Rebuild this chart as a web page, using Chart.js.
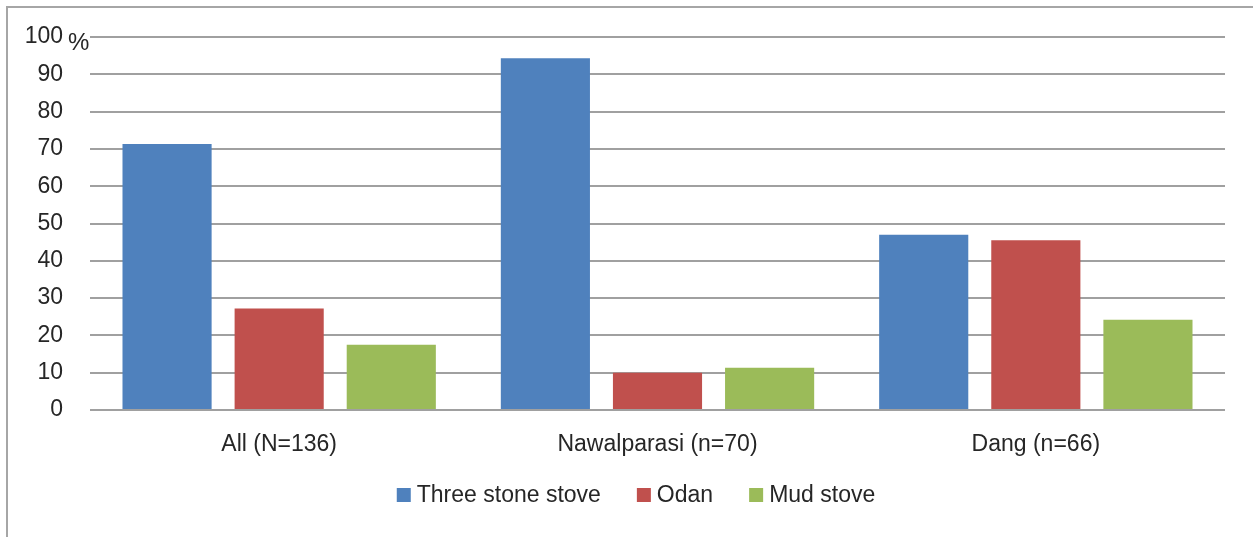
<!DOCTYPE html>
<html>
<head>
<meta charset="utf-8">
<script src="https://cdn.jsdelivr.net/npm/chart.js@4.4.1/dist/chart.umd.min.js"></script>
<style>
html,body{margin:0;padding:0;background:#fff;}
#wrap{position:relative;width:1253px;height:537px;}
</style>
</head>
<body>
<div id="wrap"><canvas id="c"></canvas></div>
<script>
const categories = ["All (N=136)", "Nawalparasi (n=70)", "Dang (n=66)"];
const seriesNames = ["Three stone stove", "Odan", "Mud stove"];
const threeStone = [71.3, 94.3, 47.0];
const odan = [27.2, 10.0, 45.5];
const mudStove = [17.5, 11.3, 24.2];
const yTicks = [0, 10, 20, 30, 40, 50, 60, 70, 80, 90, 100];
const colors = ["#4F81BD", "#C0504D", "#9BBB59"];

const FONT = "Liberation Sans, Arial, sans-serif";
const TXT = "#262626";

const framePlugin = {
  id: 'frame',
  afterDraw(chart) {
    const ctx = chart.ctx;
    ctx.save();
    ctx.strokeStyle = "#a6a6a6";
    ctx.lineWidth = 2;
    ctx.beginPath();
    ctx.moveTo(7, 537);
    ctx.lineTo(7, 7);
    ctx.lineTo(1253, 7);
    ctx.stroke();

    // percent sign next to top tick
    const y = chart.scales.y;
    const py = y.getPixelForValue(100);
    ctx.save();
    ctx.beginPath();
    ctx.rect(60, py - 10, 40, 23);
    ctx.clip();
    ctx.fillStyle = TXT;
    ctx.font = "24px " + FONT;
    ctx.textAlign = "left";
    ctx.textBaseline = "middle";
    ctx.fillText("%", 68, py + 6);
    ctx.restore();

    // legend
    ctx.font = "23px " + FONT;
    ctx.textBaseline = "middle";
    ctx.textAlign = "left";
    const box = 14, gapText = 6, gapItem = 36;
    const ds = chart.data.datasets;
    let widths = ds.map(d => box + gapText + ctx.measureText(d.label).width);
    let total = widths.reduce((a, b) => a + b, 0) + gapItem * (ds.length - 1);
    let x = 636 - total / 2;
    const ly = 495;
    ds.forEach((d, i) => {
      ctx.fillStyle = d.backgroundColor;
      ctx.fillRect(x, ly - 7, box, box);
      ctx.fillStyle = TXT;
      ctx.fillText(d.label, x + box + gapText, ly + 1);
      x += widths[i] + gapItem;
    });
    ctx.restore();
  }
};

new Chart(document.getElementById('c'), {
  type: 'bar',
  data: {
    labels: categories,
    datasets: [
      { label: seriesNames[0], data: threeStone, backgroundColor: colors[0] },
      { label: seriesNames[1], data: odan, backgroundColor: colors[1] },
      { label: seriesNames[2], data: mudStove, backgroundColor: colors[2] }
    ]
  },
  options: {
    responsive: true,
    maintainAspectRatio: false,
    animation: false,
    layout: { padding: { left: 0, right: 28, top: 37, bottom: 0 } },
    plugins: { legend: { display: false }, tooltip: { enabled: false } },
    datasets: { bar: { categoryPercentage: 0.889, barPercentage: 0.795 } },
    scales: {
      x: {
        grid: { display: false, drawTicks: false },
        border: { display: false },
        ticks: { color: TXT, font: { family: FONT, size: 23 }, padding: 21 },
        afterFit(s) { s.height = 127; s.paddingLeft = 0; s.paddingRight = 0; }
      },
      y: {
        min: 0, max: 100,
        afterBuildTicks(s) { s.ticks = yTicks.map(v => ({ value: v })); },
        grid: { color: "#a0a0a0", lineWidth: 2, drawTicks: false },
        border: { display: false },
        ticks: { color: TXT, font: { family: FONT, size: 23 }, padding: 27 },
        afterFit(s) { s.width = 90; s.paddingTop = 0; s.paddingBottom = 0; }
      }
    }
  },
  plugins: [framePlugin]
});
</script>
</body>
</html>
